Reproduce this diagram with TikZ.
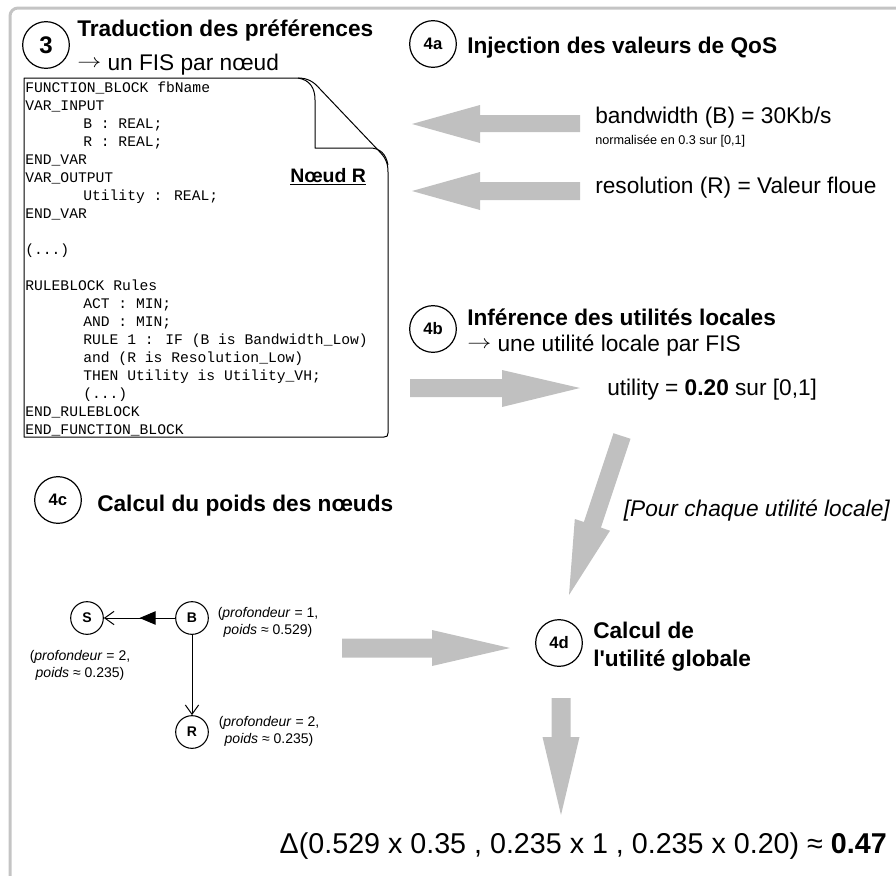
\documentclass[tikz,border=0pt]{standalone}
\usepackage{fontspec}
\usepackage{graphicx}
\setmainfont{Liberation Sans}
\newfontfamily\codefont{Liberation Mono}
\usetikzlibrary{arrows.meta,decorations.markings}
\definecolor{arrowgray}{RGB}{192,192,192}
\definecolor{framegray}{RGB}{196,196,196}
\newcommand\codetab{\hspace*{43.5pt}}
\newcommand\rarr{\raisebox{1.6pt}{\scalebox{1.5}[1.2]{\fontsize{13}{15}\selectfont$\rightarrow$}}}
\tikzset{
  stepcirc/.style={circle, draw, line width=0.9pt, minimum size=35pt, inner sep=0pt,
    font=\bfseries\fontsize{12.5}{14}\selectfont},
  titletext/.style={anchor=base west, inner sep=0pt, font=\bfseries\fontsize{17}{20}\selectfont},
  bodytext/.style={anchor=base west, inner sep=0pt, font=\fontsize{17}{20}\selectfont},
  smalltext/.style={anchor=base west, inner sep=0pt, font=\fontsize{9.5}{11}\selectfont},
  codeline/.style={anchor=base west, inner sep=0pt, font=\codefont\fontsize{11}{13}\selectfont},
  gnode/.style={circle, draw, line width=0.8pt, minimum size=24.5pt, inner sep=0pt,
    font=\bfseries\fontsize{10.5}{12}\selectfont},
  glabel/.style={align=center, inner sep=0pt, font=\fontsize{10.5}{12.75}\selectfont},
  gedge/.style={line width=0.75pt, -{Straight Barb[length=7pt,width=10pt]}},
  midtri/.style={postaction={decorate}, decoration={markings,
    mark=at position 0.5 with {\arrow{Triangle[length=12pt,width=10pt]}}}},
  bigarrow/.style={fill=arrowgray, draw=none},
}
\begin{document}
\begin{tikzpicture}[x=0.75pt, y=-0.75pt]
\useasboundingbox (0,0) rectangle (896,875);

% frame
\draw[framegray, line width=2.25pt, rounded corners=6pt] (10,880) -- (10,8) -- (900,8);

% step circles
\node[stepcirc, font=\bfseries\fontsize{18}{20}\selectfont] (s3) at (46,45) {3};
\node[stepcirc] (s4a) at (433,44) {4a};
\node[stepcirc] (s4b) at (433,329) {4b};
\node[stepcirc] (s4c) at (58,500) {4c};
\node[stepcirc] (s4d) at (559,643) {4d};

% titles
\node[titletext] (t3) at (77,36) {Traduction des préférences};
\node[bodytext] (t3b) at (77,70) {\rarr\ un FIS par nœud};
\node[titletext] (t4a) at (467,53) {Injection des valeurs de QoS};
\node[titletext] (t4b) at (467,325) {Inférence des utilités locales};
\node[bodytext] (t4bs) at (467,351) {\rarr\ une utilité locale par FIS};
\node[titletext] (t4c) at (97,511) {Calcul du poids des nœuds};
\node[titletext] (t4d1) at (593,638) {Calcul de};
\node[titletext] (t4d2) at (593,666) {l\textquotesingle utilité globale};

% code document with folded corner
\draw[line width=0.75pt, line join=round]
  (24,78) -- (298,78) .. controls (308,78) and (314,82) .. (320,89)
  -- (378,150) .. controls (385,157) and (388,162) .. (388,172)
  -- (388,433) .. controls (388,436) and (387,437) .. (384,437)
  -- (24,437) -- cycle;
\draw[line width=0.75pt, line join=round]
  (298,78) .. controls (310,80) and (315,88) .. (315,100) -- (315,148)
  -- (370,148) .. controls (380,148) and (386,154) .. (388,165);

\node[codeline] (c0) at (25,92) {FUNCTION\_BLOCK fbName};
\node[codeline] (c1) at (25,110) {VAR\_INPUT};
\node[codeline] (c2) at (25,128) {\codetab B : REAL;};
\node[codeline] (c3) at (25,146) {\codetab R : REAL;};
\node[codeline] (c4) at (25,164) {END\_VAR};
\node[codeline] (c5) at (25,182) {VAR\_OUTPUT};
\node[codeline] (c6) at (25,200) {\codetab Utility : REAL;};
\node[codeline] (c7) at (25,218) {END\_VAR};
\node[codeline] (c9) at (25,254) {(...)};
\node[codeline] (c11) at (25,290) {RULEBLOCK Rules};
\node[codeline] (c12) at (25,308) {\codetab ACT : MIN;};
\node[codeline] (c13) at (25,326) {\codetab AND : MIN;};
\node[codeline] (c14) at (25,344) {\codetab RULE 1 : IF (B is Bandwidth\_Low)};
\node[codeline] (c15) at (25,362) {\codetab and (R is Resolution\_Low)};
\node[codeline] (c16) at (25,380) {\codetab THEN Utility is Utility\_VH;};
\node[codeline] (c17) at (25,398) {\codetab (...)};
\node[codeline] (c18) at (25,416) {END\_RULEBLOCK};
\node[codeline] (c19) at (25,434) {END\_FUNCTION\_BLOCK};

\node[anchor=base west, inner sep=0pt, font=\bfseries\fontsize{14.6}{17}\selectfont] (noeud) at (290,182) {\underline{Nœud R}};

% QoS values
\node[bodytext] (bw) at (595,123) {bandwidth (B) = 30Kb/s};
\node[smalltext] (norm) at (595,144) {normalisée en 0.3 sur [0,1]};
\node[bodytext] (resol) at (595,193) {resolution (R) = Valeur floue};
\node[bodytext] (util) at (607,395) {utility = \textbf{0.20} sur [0,1]};
\node[bodytext, anchor=base east, font=\itshape\fontsize{17}{20}\selectfont] (pour) at (890,516) {[Pour chaque utilité locale]};
\node[anchor=base east, inner sep=0pt, font=\fontsize{21.5}{25}\selectfont] (formula) at (887,853)
  {Δ(0.529 x 0.35 , 0.235 x 1 , 0.235 x 0.20) ≈ \textbf{0.47}};

% big gray arrows
\fill[bigarrow] (580,115) -- (480,115) -- (480,105) -- (412,124) -- (480,143) -- (480,132) -- (580,132) -- cycle;
\fill[bigarrow] (580,182) -- (480,182) -- (480,172) -- (412,191) -- (480,210) -- (480,200) -- (580,200) -- cycle;
\fill[bigarrow] (410,379) -- (502,379) -- (502,370) -- (580,388) -- (502,407) -- (502,397) -- (410,397) -- cycle;
\fill[bigarrow] (630.5,438.8) -- (613.5,433.2) -- (583.9,522.0) -- (574.8,519.0) -- (569,595) -- (610.0,530.7) -- (600.9,527.6) -- cycle;
\fill[bigarrow] (342,638.5) -- (432,638.5) -- (432,630) -- (510,648) -- (432,666) -- (432,657.5) -- (342,657.5) -- cycle;
\fill[bigarrow] (551.5,698) -- (570.5,698) -- (570.5,737) -- (579.5,737) -- (561,815) -- (542.5,737) -- (551.5,737) -- cycle;

% node graph
\node[gnode] (S) at (87,618) {S};
\node[gnode] (B) at (192,618) {B};
\node[gnode] (R) at (192,732) {R};
\draw[gedge, midtri] (B) -- (S);
\draw[gedge] (B) -- (R);
\node[glabel] (Bl) at (268,622) {(\textit{profondeur} = 1,\\ \textit{poids} ≈ 0.529)};
\node[glabel] (Sl) at (80,665) {(\textit{profondeur} = 2,\\\textit{poids} ≈ 0.235)};
\node[glabel] (Rl) at (269,731) {(\textit{profondeur} = 2,\\\textit{poids} ≈ 0.235)};
\end{tikzpicture}
\end{document}
